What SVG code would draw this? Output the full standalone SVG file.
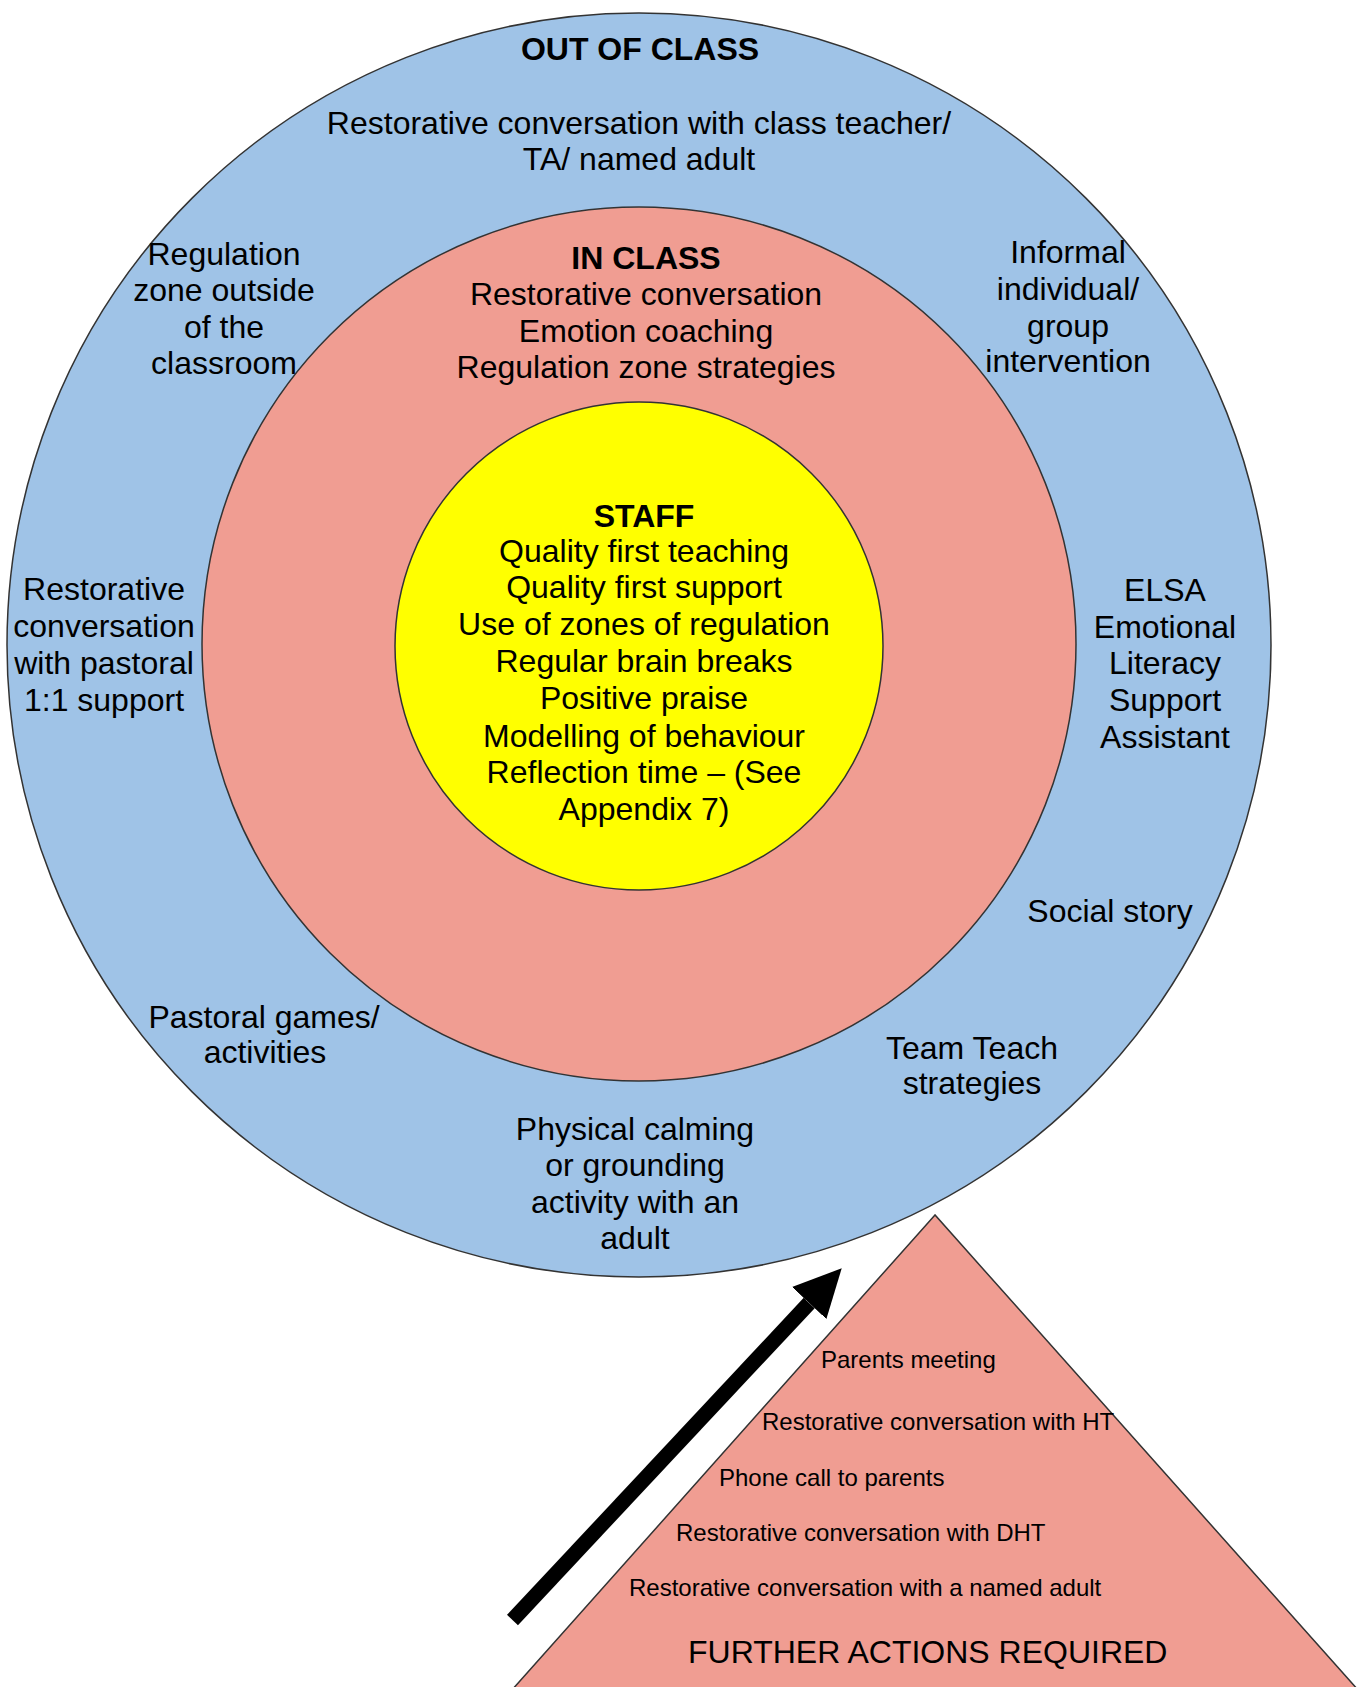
<svg xmlns="http://www.w3.org/2000/svg" width="1359" height="1687" viewBox="0 0 1359 1687">
<style>
  text { font-family: "Liberation Sans", Arial, sans-serif; fill: #000; }
  .t { font-size: 32px; text-anchor: middle; }
  .b { font-weight: bold; }
  .s { font-size: 24px; text-anchor: start; }
  .f { font-size: 32px; text-anchor: start; }
  .ring { stroke: #333; stroke-width: 1.5; }
</style>
<defs>
  <marker id="head" markerUnits="userSpaceOnUse" markerWidth="48" markerHeight="48" refX="0" refY="23.5" orient="auto" viewBox="0 0 48 47">
    <path d="M0,0 L47.6,23.5 L0,47 z" fill="#000"/>
  </marker>
</defs>
<rect width="1359" height="1687" fill="#fff"/>

<g id="out-of-class">
  <circle class="ring" cx="639" cy="645" r="632" fill="#9FC3E7"/>
  <text class="t b" x="640" y="60">OUT OF CLASS</text>
  <text class="t" x="639" y="134">Restorative conversation with class teacher/</text>
  <text class="t" x="639" y="170">TA/ named adult</text>
  <text class="t" x="224"><tspan x="224" y="265">Regulation</tspan><tspan x="224" y="301">zone outside</tspan><tspan x="224" y="338">of the</tspan><tspan x="224" y="374">classroom</tspan></text>
  <text class="t" x="1068"><tspan x="1068" y="263">Informal</tspan><tspan x="1068" y="300">individual/</tspan><tspan x="1068" y="337">group</tspan><tspan x="1068" y="372">intervention</tspan></text>
  <text class="t" x="104"><tspan x="104" y="600">Restorative</tspan><tspan x="104" y="637">conversation</tspan><tspan x="104" y="674">with pastoral</tspan><tspan x="104" y="711">1:1 support</tspan></text>
  <text class="t" x="1165"><tspan x="1165" y="601">ELSA</tspan><tspan x="1165" y="638">Emotional</tspan><tspan x="1165" y="674">Literacy</tspan><tspan x="1165" y="711">Support</tspan><tspan x="1165" y="748">Assistant</tspan></text>
  <text class="t" x="1110" y="922">Social story</text>
  <text class="t" x="264"><tspan x="264" y="1028">Pastoral games/</tspan><tspan x="265" y="1063">activities</tspan></text>
  <text class="t" x="972"><tspan x="972" y="1059">Team Teach</tspan><tspan x="972" y="1094">strategies</tspan></text>
  <text class="t" x="635"><tspan x="635" y="1140">Physical calming</tspan><tspan x="635" y="1176">or grounding</tspan><tspan x="635" y="1213">activity with an</tspan><tspan x="635" y="1249">adult</tspan></text>
</g>

<g id="in-class">
  <circle class="ring" cx="639" cy="644" r="437" fill="#F09D92"/>
  <text class="t b" x="646" y="269">IN CLASS</text>
  <text class="t" x="646" y="305">Restorative conversation</text>
  <text class="t" x="646" y="342">Emotion coaching</text>
  <text class="t" x="646" y="378">Regulation zone strategies</text>
</g>

<g id="staff">
  <circle class="ring" cx="639" cy="646" r="244" fill="#FFFF00"/>
  <text class="t b" x="644" y="527">STAFF</text>
  <text class="t" x="644" y="562">Quality first teaching</text>
  <text class="t" x="644" y="598">Quality first support</text>
  <text class="t" x="644" y="635">Use of zones of regulation</text>
  <text class="t" x="644" y="672">Regular brain breaks</text>
  <text class="t" x="644" y="709">Positive praise</text>
  <text class="t" x="644" y="747">Modelling of behaviour</text>
  <text class="t" x="644" y="783">Reflection time – (See</text>
  <text class="t" x="644" y="820">Appendix 7)</text>
</g>

<g id="further-actions">
  <polygon class="ring" points="935,1215 503,1700 1367,1700" fill="#F09D92" stroke-width="1"/>
  <text class="s" x="821" y="1368">Parents meeting</text>
  <text class="s" x="762" y="1430">Restorative conversation with HT</text>
  <text class="s" x="719" y="1486">Phone call to parents</text>
  <text class="s" x="676" y="1541">Restorative conversation with DHT</text>
  <text class="s" x="629" y="1596">Restorative conversation with a named adult</text>
  <text class="f" x="688" y="1663">FURTHER ACTIONS REQUIRED</text>
</g>

<g id="connectors">
  <line x1="512.5" y1="1620" x2="809.2" y2="1303" stroke="#000" stroke-width="15" marker-end="url(#head)"/>
</g>
</svg>
